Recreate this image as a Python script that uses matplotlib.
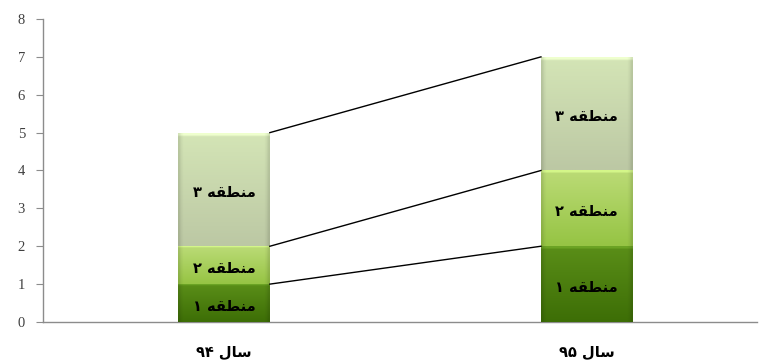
import numpy as np
import matplotlib
matplotlib.use("Agg")
import matplotlib.pyplot as plt
from matplotlib.colors import to_rgb
from matplotlib.transforms import offset_copy

# ---- data ----
categories = ["سال ۹۴", "سال ۹۵"]
series_names = ["منطقه ۱", "منطقه ۲", "منطقه ۳"]
region1 = [1, 2]
region2 = [1, 2]
region3 = [3, 3]
yticks = [0, 1, 2, 3, 4, 5, 6, 7, 8]

# ---- minimal Persian shaping (presentation forms) ----
FORMS = {  # isolated, final, initial, medial
    "م": ("\uFEE1", "\uFEE2", "\uFEE3", "\uFEE4"),
    "ن": ("\uFEE5", "\uFEE6", "\uFEE7", "\uFEE8"),
    "ط": ("\uFEC1", "\uFEC2", "\uFEC3", "\uFEC4"),
    "ق": ("\uFED5", "\uFED6", "\uFED7", "\uFED8"),
    "ه": ("\uFEE9", "\uFEEA", "\uFEEB", "\uFEEC"),
    "س": ("\uFEB1", "\uFEB2", "\uFEB3", "\uFEB4"),
    "ل": ("\uFEDD", "\uFEDE", "\uFEDF", "\uFEE0"),
    "ا": ("\uFE8D", "\uFE8E", "\uFE8D", "\uFE8E"),
}
NON_JOIN_AFTER = set("ا")


def shape_word(w):
    if not any(c in FORMS for c in w):
        return w  # digits stay left-to-right
    out = []
    n = len(w)
    for i, c in enumerate(w):
        prev_joins = i > 0 and w[i - 1] in FORMS and w[i - 1] not in NON_JOIN_AFTER
        next_joins = i < n - 1 and w[i + 1] in FORMS and c not in NON_JOIN_AFTER
        f = FORMS[c]
        if prev_joins and next_joins:
            out.append(f[3])
        elif prev_joins:
            out.append(f[1])
        elif next_joins:
            out.append(f[2])
        else:
            out.append(f[0])
    return "".join(reversed(out))


def shape(s):
    # right-to-left display: reverse token order, shape each token
    return " ".join(shape_word(t) for t in reversed(s.split(" ")))


# ---- figure ----
fig = plt.figure(figsize=(7.6, 3.64), dpi=100)
ax = fig.add_axes([0.0566, 0.1154, 0.94, 0.8324])

x = np.arange(len(categories))
width = 0.253
series = [region1, region2, region3]
grads = [  # (top colour, bottom colour)
    ("#5a8e18", "#3d6e06"),
    ("#bbdb76", "#96c444"),
    ("#d4e5b6", "#bcc8a4"),
]
label_tr = offset_copy(ax.transData, fig=fig, x=0, y=-3, units="dots")

bottom = np.zeros(len(categories))
cum_tops = []
for vals, name, (ctop, cbot) in zip(series, series_names, grads):
    bars = ax.bar(x, vals, width, bottom=bottom, color=cbot, edgecolor="none", zorder=2)
    for rect in bars:
        x0, y0 = rect.get_x(), rect.get_y()
        w, h = rect.get_width(), rect.get_height()
        ny, nx = 60, 40
        t = np.linspace(0, 1, ny)[:, None]
        top = np.array(to_rgb(ctop))
        bot = np.array(to_rgb(cbot))
        img = (1 - t)[..., None] * top + t[..., None] * bot
        img = np.repeat(img, nx, axis=1)
        xs = np.linspace(0, 1, nx)
        edge = np.clip(np.minimum(xs, 1 - xs) / 0.04, 0, 1)
        fac = 0.88 + 0.12 * edge
        img = img * fac[None, :, None]
        img[:2, :, :] = np.clip(img[:2, :, :] * 1.08 + 0.04, 0, 1)
        im = ax.imshow(img, extent=[x0, x0 + w, y0, y0 + h], origin="upper",
                       aspect="auto", zorder=3, interpolation="bilinear")
        im.set_clip_path(rect)
        ax.text(x0 + w / 2, y0 + h / 2, shape(name), ha="center", va="center",
                fontsize=10.5, fontweight="bold", family=["DejaVu Sans"], zorder=5,
                transform=label_tr)
    bottom = bottom + np.array(vals)
    cum_tops.append(bottom.copy())

# series lines
for tops in cum_tops:
    ax.plot([x[0] + width / 2, x[1] - width / 2], [tops[0], tops[1]],
            color="black", lw=1.0, zorder=4)

ax.set_xlim(-0.4986, 1.47)
ax.set_ylim(0, 8)
ax.set_yticks(yticks)
ax.set_yticklabels([str(v) for v in yticks], family="Liberation Serif",
                   fontsize=10.5, color="#404040")
ax.set_xticks(x)
ax.set_xticklabels([shape(c) for c in categories], fontsize=10.5,
                   fontweight="bold", family=["DejaVu Sans"])
ax.tick_params(axis="x", length=0, pad=16)
ax.tick_params(axis="y", length=5, color="#8c8c8c", pad=8)
for s in ["top", "right"]:
    ax.spines[s].set_visible(False)
for s in ["left", "bottom"]:
    ax.spines[s].set_color("#8c8c8c")
    ax.spines[s].set_linewidth(1.0)

fig.savefig("out.png", dpi=100)
